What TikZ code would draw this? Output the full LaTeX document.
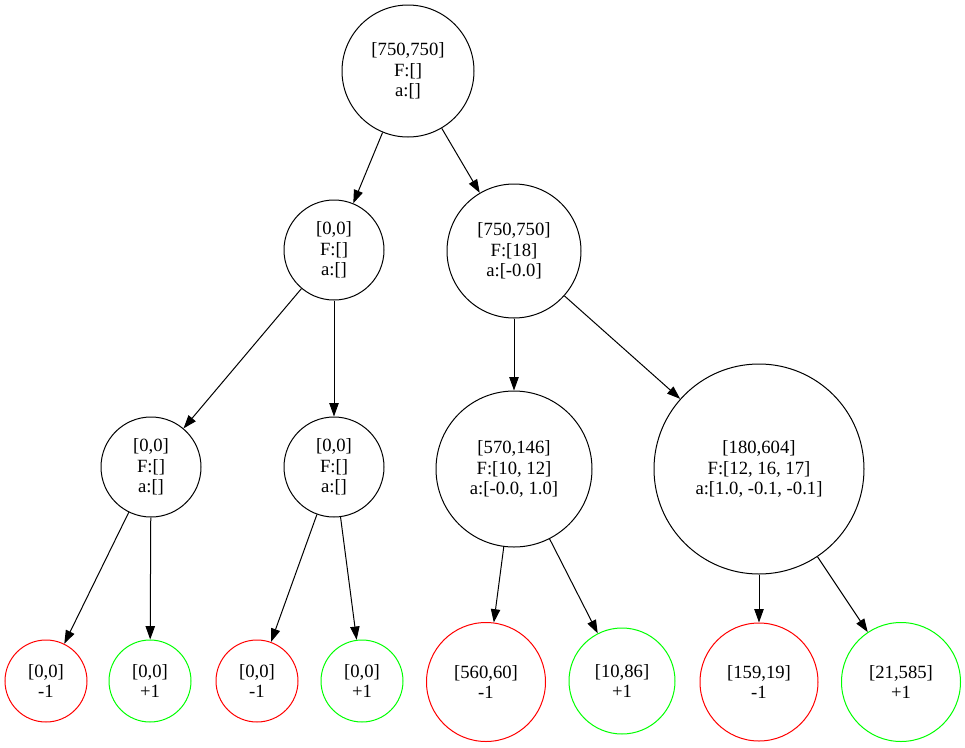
\documentclass[tikz,border=0pt]{standalone}
\usepackage{fontspec}
\setmainfont{Liberation Serif}
\usetikzlibrary{arrows.meta}
\definecolor{gvgreen}{RGB}{0,255,0}
\definecolor{gvred}{RGB}{255,0,0}
\begin{document}
\begin{tikzpicture}[x=0.75pt,y=-0.75pt,
  state/.style={circle,draw,inner sep=0pt,align=center,line width=0.75pt,
    font=\fontsize{14}{15.5}\selectfont,minimum size={#1*1.5pt}},
  neg/.style={state=#1,draw=gvred},
  pos/.style={state=#1,draw=gvgreen},
  edge/.style={-{Triangle[length=10pt,width=7pt]},line width=0.75pt}]
\useasboundingbox (0,0) rectangle (965,747);
\node[state=66] (root) at (408,71) {[750,750]\\F:[]\\a:[]};
\node[state=50] (n1) at (334,250) {[0,0]\\F:[]\\a:[]};
\node[state=67] (n2) at (514,251) {[750,750]\\F:[18]\\a:[-0.0]};
\node[state=50] (n3) at (151,467) {[0,0]\\F:[]\\a:[]};
\node[state=50] (n4) at (334,467) {[0,0]\\F:[]\\a:[]};
\node[state=78] (n5) at (514,469) {[570,146]\\F:[10, 12]\\a:[-0.0, 1.0]};
\node[state=105] (n6) at (759,469) {[180,604]\\F:[12, 16, 17]\\a:[1.0, -0.1, -0.1]};
\node[neg=41] (l1) at (46,681) {[0,0]\\-1};
\node[pos=41] (l2) at (150,681) {[0,0]\\+1};
\node[neg=41] (l3) at (257,681) {[0,0]\\-1};
\node[pos=41] (l4) at (362,681) {[0,0]\\+1};
\node[neg=59.5] (l5) at (486,682) {[560,60]\\-1};
\node[pos=53] (l6) at (622,681) {[10,86]\\+1};
\node[neg=59] (l7) at (759,682) {[159,19]\\-1};
\node[pos=59.5] (l8) at (901,682) {[21,585]\\+1};
\draw[edge] (root) -- (n1);
\draw[edge] (root) -- (n2);
\draw[edge] (n1) -- (n3);
\draw[edge] (n1) -- (n4);
\draw[edge] (n2) -- (n5);
\draw[edge] (n2) -- (n6);
\draw[edge] (n3) -- (l1);
\draw[edge] (n3) -- (l2);
\draw[edge] (n4) -- (l3);
\draw[edge] (n4) -- (l4);
\draw[edge] (n5) -- (l5);
\draw[edge] (n5) -- (l6);
\draw[edge] (n6) -- (l7);
\draw[edge] (n6) -- (l8);
\end{tikzpicture}
\end{document}
